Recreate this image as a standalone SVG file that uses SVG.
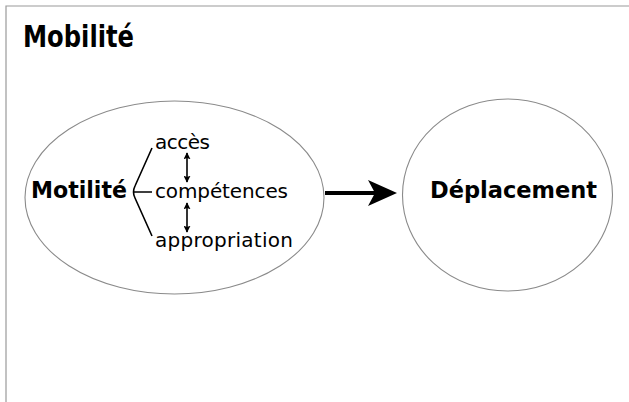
<svg xmlns="http://www.w3.org/2000/svg" width="629" height="402" viewBox="0 0 629 402">
<defs>
<style>
.frame{stroke:#9a9a9a;stroke-width:1.2;fill:none}
.node{fill:none;stroke:#8a8a8a;stroke-width:1.1}
.bold{font-family:"DejaVu Sans",sans-serif;font-weight:bold;fill:#000}
.reg{font-family:"DejaVu Sans",sans-serif;font-size:20px;fill:#000}
.ln{stroke:#000;stroke-width:1.6;fill:none}
</style>
<marker id="ah" viewBox="0 0 10 10" refX="9" refY="5" markerWidth="7" markerHeight="7" orient="auto-start-reverse" markerUnits="userSpaceOnUse">
<path d="M0,0 L10,5 L0,10 L2,5 Z" fill="#000"/>
</marker>
</defs>
<rect width="629" height="402" fill="#fff"/>
<path class="frame" d="M6,402 V6 H629"/>
<text class="bold" x="23" y="47" font-size="30" textLength="111" lengthAdjust="spacingAndGlyphs" font-family="Liberation Sans, sans-serif">Mobilité</text>
<g id="motilite">
<ellipse class="node" cx="174.5" cy="197.5" rx="149.5" ry="96.5"/>
<text class="bold" x="31" y="198" font-size="23" textLength="96" lengthAdjust="spacingAndGlyphs">Motilité</text>
<path class="ln" d="M152,148 L135,186 Q132,192 135,198 L152,236 M133,192 H152"/>
<text class="reg" x="155" y="149" textLength="55">accès</text>
<text class="reg" x="155" y="198" textLength="133">compétences</text>
<text class="reg" x="155" y="247" textLength="138">appropriation</text>
<line class="ln" x1="187" y1="153" x2="187" y2="182" stroke-width="1.5" marker-start="url(#ah)" marker-end="url(#ah)"/>
<line class="ln" x1="187" y1="203" x2="187" y2="232" stroke-width="1.5" marker-start="url(#ah)" marker-end="url(#ah)"/>
</g>
<g id="deplacement">
<ellipse class="node" cx="507.5" cy="195" rx="105" ry="96"/>
<text class="bold" x="430" y="198" font-size="23" textLength="167" lengthAdjust="spacingAndGlyphs">Déplacement</text>
</g>
<g id="connectors">
<line x1="325" y1="193" x2="378" y2="193" stroke="#000" stroke-width="4"/>
<polygon points="368,180 397,193 368,206 375,193" fill="#000"/>
</g>
</svg>
